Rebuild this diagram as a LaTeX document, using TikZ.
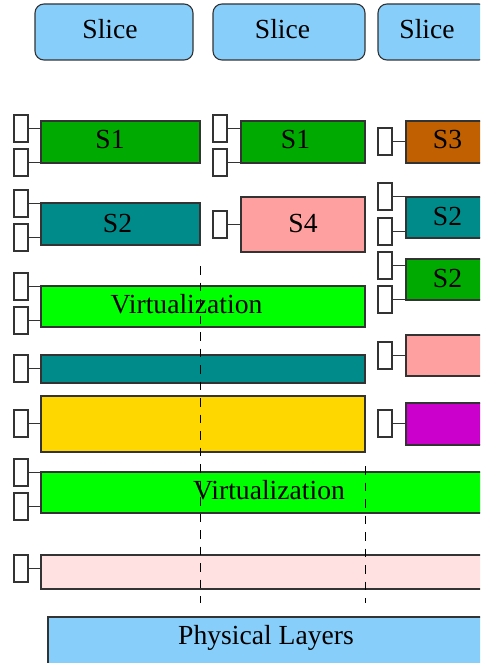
\documentclass[tikz,border=0pt]{standalone}
\usepackage{fontspec}
\setmainfont{Liberation Serif}
\definecolor{slicebl}{HTML}{87CEFA}
\definecolor{sgreen}{HTML}{00AA00}
\definecolor{sbrown}{HTML}{C06000}
\definecolor{steal}{HTML}{008B8B}
\definecolor{spink}{HTML}{FFA0A0}
\definecolor{vgreen}{HTML}{00FF00}
\definecolor{syellow}{HTML}{FFD700}
\definecolor{smag}{HTML}{CC00CC}
\definecolor{lpink}{HTML}{FFE1E1}
\definecolor{edge}{HTML}{333333}
\tikzset{
  box/.style={draw=edge,line width=1.1pt,anchor=north west,inner sep=0pt,outer sep=0pt},
  slicebox/.style={box,fill=slicebl,rounded corners=9pt},
  port/.style={box,fill=white,minimum width=14pt,minimum height=27pt},
  conn/.style={draw=edge,line width=1.1pt},
  lbl/.style={anchor=base,inner sep=0pt,font=\fontsize{27.6}{32}\selectfont},
  divider/.style={draw=black,line width=0.9pt,dash pattern=on 8.5pt off 8pt}
}
\begin{document}
\begin{tikzpicture}[x=1pt,y=-1pt]
\useasboundingbox (0,0) rectangle (480,663);
\clip (0,0) rectangle (480,663);
% top slices
\node[slicebox,minimum width=158pt,minimum height=56pt] (sl1) at (35,4) {};
\node[slicebox,minimum width=152pt,minimum height=56pt] (sl2) at (213,4) {};
\node[slicebox,minimum width=110pt,minimum height=56pt] (sl3) at (378,4) {};
\node[lbl] (tsl1) at (110,39) {Slice};
\node[lbl] (tsl2) at (282.5,39) {Slice};
\node[lbl] (tsl3) at (427,39) {Slice};
% row 1
\node[box,fill=sgreen,minimum width=159pt,minimum height=42pt] (a1) at (41,121) {};
\node[lbl] at (110,149) {S1};
\node[port] (a1p1) at (14,115) {};
\node[port] (a1p2) at (14,149) {};
\node[box,fill=sgreen,minimum width=124pt,minimum height=42pt] (b1) at (241,121) {};
\node[lbl] at (295.5,149) {S1};
\node[port] (b1p1) at (213,115) {};
\node[port] (b1p2) at (213,149) {};
\node[box,fill=sbrown,minimum width=84pt,minimum height=42pt] (c1) at (406,121) {};
\node[lbl] at (447.5,149) {S3};
\node[port] (c1p1) at (378,128) {};
% row 2
\node[box,fill=steal,minimum width=159pt,minimum height=42pt] (a2) at (41,203) {};
\node[lbl] at (117.5,232) {S2};
\node[port] (a2p1) at (14,190) {};
\node[port] (a2p2) at (14,224) {};
\node[box,fill=spink,minimum width=124pt,minimum height=55pt] (b2) at (241,197) {};
\node[lbl] at (303,232) {S4};
\node[port] (b2p1) at (213,211) {};
\node[box,fill=steal,minimum width=84pt,minimum height=41pt] (c2) at (406,197) {};
\node[lbl] at (447.5,225) {S2};
\node[port] (c2p1) at (378,183) {};
\node[port] (c2p2) at (378,218) {};
\node[box,fill=sgreen,minimum width=84pt,minimum height=41pt] (c3) at (406,259) {};
\node[lbl] at (447.5,287) {S2};
\node[port] (c3p1) at (378,252) {};
\node[port] (c3p2) at (378,286) {};
% virtualization upper
\node[box,fill=vgreen,minimum width=324pt,minimum height=41pt] (v1) at (41,286) {};
\node[port] (v1p1) at (14,273) {};
\node[port] (v1p2) at (14,307) {};
% right pink / magenta
\node[box,fill=spink,minimum width=84pt,minimum height=41pt] (c4) at (406,335) {};
\node[port] (c4p1) at (378,342) {};
\node[box,fill=smag,minimum width=84pt,minimum height=42pt] (c5) at (406,403) {};
\node[port] (c5p1) at (378,410) {};
% teal bar and yellow
\node[box,fill=steal,minimum width=324pt,minimum height=28pt] (a3) at (41,355) {};
\node[port] (a3p1) at (14,355) {};
\node[box,fill=syellow,minimum width=324pt,minimum height=56pt] (a4) at (41,396) {};
\node[port] (a4p1) at (14,410) {};
% virtualization lower
\node[box,fill=vgreen,minimum width=460pt,minimum height=41pt] (v2) at (41,472) {};
\node[port] (v2p1) at (14,459) {};
\node[port] (v2p2) at (14,493) {};
% light pink bar
\node[box,fill=lpink,minimum width=460pt,minimum height=34pt] (a5) at (41,555) {};
\node[port] (a5p1) at (14,555) {};
% physical layers
\node[box,fill=slicebl,minimum width=460pt,minimum height=60pt] (phy) at (48,617) {};
\node[lbl] (tphy) at (266,644) {Physical Layers};
% connectors
\foreach \p/\b in {a1p1/a1,a1p2/a1,b1p1/b1,b1p2/b1,c1p1/c1,a2p1/a2,a2p2/a2,b2p1/b2,c2p1/c2,c2p2/c2,c3p1/c3,c3p2/c3,v1p1/v1,v1p2/v1,c4p1/c4,c5p1/c5,a3p1/a3,a4p1/a4,v2p1/v2,v2p2/v2,a5p1/a5}
  \draw[conn] (\p.east) -- (\p.east -| \b.west);
% labels on the virtualization layers
\node[lbl] (tv1) at (186.5,313) {Virtualization};
\node[lbl] (tv2) at (269,499) {Virtualization};
% dividers
\coordinate (d1a) at (200,266);
\coordinate (d1b) at (200,603);
\coordinate (d2a) at (365,466);
\coordinate (d2b) at (365,603);
\draw[divider] (d1a) -- (d1b);
\draw[divider] (d2a) -- (d2b);
\end{tikzpicture}
\end{document}
